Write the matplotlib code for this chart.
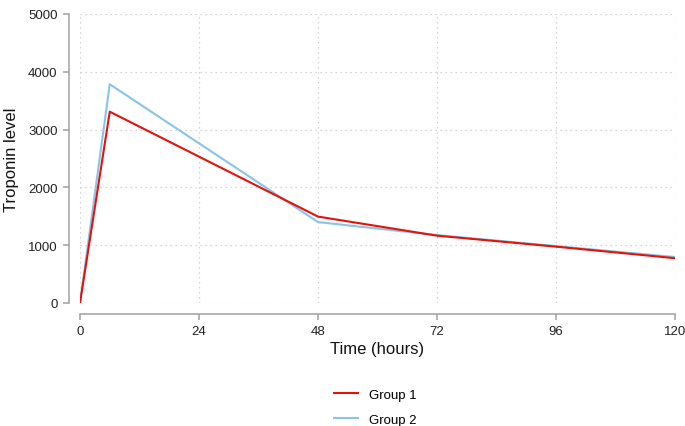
import matplotlib
matplotlib.use("Agg")
import matplotlib.pyplot as plt
from matplotlib.lines import Line2D

hours = [0, 6, 48, 72, 96, 120]
group1 = [0, 3310, 1495, 1165, 975, 775]
group2 = [0, 3785, 1400, 1175, 985, 795]
series_names = ["Group 1", "Group 2"]
xticks = [0, 24, 48, 72, 96, 120]
yticks = [0, 1000, 2000, 3000, 4000, 5000]

plt.rcParams['font.family'] = ['Liberation Sans', 'DejaVu Sans']

fig = plt.figure(figsize=(6.85, 4.27), dpi=100)
W, H = 685, 427
ax = fig.add_axes([80 / W, 1 - 304 / H, 595 / W, 289 / H])

red = '#E3120B'
blue = '#87C4E8'
ax.plot(hours, group1, color=red, lw=1.5, zorder=3)
ax.plot(hours, group2, color=blue, lw=1.5, zorder=2)

ax.set_xlim(0, 120)
ax.set_ylim(0, 5000)
ax.set_xticks(xticks)
ax.set_yticks(yticks)

for s in ['top', 'right']:
    ax.spines[s].set_visible(False)
ax.spines['left'].set_position(('outward', 8.2))
ax.spines['bottom'].set_position(('outward', 7.9))
for s in ['left', 'bottom']:
    ax.spines[s].set_color('#A0A0A0')
    ax.spines[s].set_linewidth(1.1)
ax.tick_params(axis='both', colors='#A0A0A0', length=4.4, width=1.1, labelsize=9.5,
               labelcolor='#222222', pad=3.5)

ax.grid(True, color='#C8C8C8', linestyle=(0, (1, 3)), linewidth=0.9)
ax.set_axisbelow(True)

ax.set_xlabel('Time (hours)', fontsize=12, color='#111111', labelpad=3)
ax.set_ylabel('Troponin level', fontsize=12, color='#111111', labelpad=6.5)

handles = [Line2D([], [], color=red, lw=1.5), Line2D([], [], color=blue, lw=1.5)]
fig.legend(handles, series_names, loc='center', bbox_to_anchor=(375 / W, 1 - 408 / H),
           frameon=False, fontsize=9.5, handlelength=1.85, labelspacing=0.95, handletextpad=0.8)

fig.savefig('out.png', dpi=100)
